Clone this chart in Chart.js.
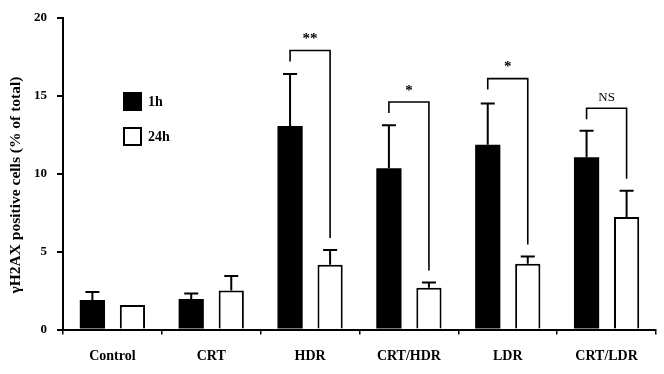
<!DOCTYPE html>
<html>
<head>
<meta charset="utf-8">
<script src="https://cdn.jsdelivr.net/npm/chart.js@4"></script>
<style>
body{margin:0;background:#fff;}
#wrap{width:664px;height:374px;}
</style>
</head>
<body>
<div id="wrap"><canvas id="chart" width="664" height="374"></canvas></div>
<script>
// data
const categories = ["Control", "CRT", "HDR", "CRT/HDR", "LDR", "CRT/LDR"];
const yTicks = [0, 5, 10, 15, 20];
const values1h = [1.9, 1.95, 13.05, 10.35, 11.85, 11.05];
const errors1h = [0.5, 0.36, 3.35, 2.75, 2.65, 1.7];
const values24h = [1.57, 2.5, 4.15, 2.68, 4.22, 7.22];
const errors24h = [0, 0.94, 0.95, 0.33, 0.47, 1.68];
const sigLabels = ["", "", "**", "*", "*", "NS"];
const bracketTops = [null, null, 17.9, 14.6, 16.1, 14.2];
const yTitle = "\u03b3H2AX positive cells (% of total)";

const serif = "'Liberation Serif', 'DejaVu Serif', serif";

// error bars, significance brackets, legend and y title
const extras = {
  id: "extras",
  afterDatasetsDraw(chart){
    const ctx = chart.ctx;
    const y = chart.scales.y;
    const m1 = chart.getDatasetMeta(0);
    const m2 = chart.getDatasetMeta(1);
    ctx.save();
    ctx.strokeStyle = "#000";
    ctx.fillStyle = "#000";

    // error bars (upper only)
    function errBar(x, v, e){
      if(!e) return;
      const y0 = y.getPixelForValue(v);
      const y1 = y.getPixelForValue(v + e);
      ctx.lineWidth = 2;
      ctx.beginPath();
      ctx.moveTo(x, y0);
      ctx.lineTo(x, y1);
      ctx.moveTo(x - 7, y1);
      ctx.lineTo(x + 7, y1);
      ctx.stroke();
    }
    categories.forEach((c, i) => {
      errBar(m1.data[i].x, values1h[i], errors1h[i]);
      errBar(m2.data[i].x, values24h[i], errors24h[i]);
    });

    // brackets
    categories.forEach((c, i) => {
      if(bracketTops[i] == null) return;
      const xl = m1.data[i].x;
      const xr = m2.data[i].x;
      const yt = y.getPixelForValue(bracketTops[i]);
      const yr = y.getPixelForValue(values24h[i] + errors24h[i]) - 12;
      ctx.lineWidth = 1.6;
      ctx.beginPath();
      ctx.moveTo(xl, yt + 11);
      ctx.lineTo(xl, yt);
      ctx.lineTo(xr, yt);
      ctx.lineTo(xr, yr);
      ctx.stroke();
      ctx.textAlign = "center";
      ctx.textBaseline = "middle";
      ctx.font = sigLabels[i] === "NS" ? "13px " + serif : "bold 15px " + serif;
      ctx.fillText(sigLabels[i], (xl + xr) / 2, yt - (sigLabels[i] === "NS" ? 11 : 11));
    });

    // legend
    const lx = 123, ly = [92, 127];
    chart.data.datasets.forEach((ds, k) => {
      ctx.fillStyle = ds.backgroundColor;
      ctx.fillRect(lx, ly[k], 19, 19);
      ctx.lineWidth = 2;
      ctx.strokeStyle = "#000";
      ctx.strokeRect(lx + 1, ly[k] + 1, 17, 17);
      ctx.fillStyle = "#000";
      ctx.font = "bold 14px " + serif;
      ctx.textAlign = "left";
      ctx.textBaseline = "middle";
      ctx.fillText(ds.label, lx + 25, ly[k] + 10);
    });

    // y axis title
    ctx.translate(16, 185);
    ctx.rotate(-Math.PI / 2);
    ctx.font = "bold 15.5px " + serif;
    ctx.textAlign = "center";
    ctx.textBaseline = "middle";
    ctx.fillText(yTitle, 0, 0);
    ctx.restore();
  }
};

new Chart(document.getElementById("chart"), {
  type: "bar",
  data: {
    labels: categories,
    datasets: [
      {label: "1h", data: values1h, backgroundColor: "#000", borderColor: "#000", borderWidth: 0},
      {label: "24h", data: values24h, backgroundColor: "#fff", borderColor: "#000", borderWidth: 2}
    ]
  },
  options: {
    responsive: false,
    animation: false,
    events: [],
    layout: {padding: {top: 15, right: 8, left: 0, bottom: 0}},
    datasets: {bar: {categoryPercentage: 0.81, barPercentage: 0.63}},
    plugins: {legend: {display: false}, tooltip: {enabled: false}},
    scales: {
      x: {
        afterFit(s){ s.height = 44.5; },
        grid: {drawOnChartArea: false, offset: true, tickLength: 5, color: "#000", lineWidth: 1.5},
        border: {display: true, color: "#000", width: 2},
        ticks: {color: "#000", padding: 13, font: {family: serif, size: 14, weight: "bold"}}
      },
      y: {
        min: 0,
        max: 20,
        afterFit(s){ s.width = 63; },
        afterBuildTicks(s){ s.ticks = yTicks.map(v => ({value: v})); },
        grid: {drawOnChartArea: false, tickLength: 6, color: "#000", lineWidth: 2},
        border: {display: true, color: "#000", width: 2},
        ticks: {color: "#000", padding: 10, font: {family: serif, size: 13, weight: "bold"}}
      }
    }
  },
  plugins: [extras]
});
</script>
</body>
</html>
